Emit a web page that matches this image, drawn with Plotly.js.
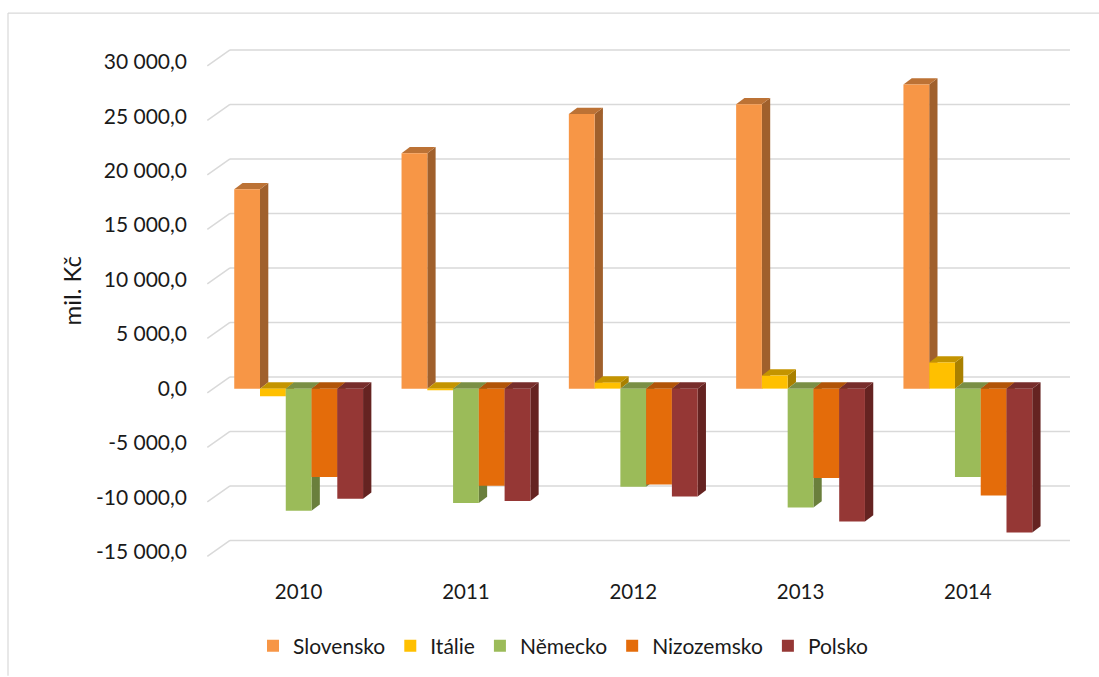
<!DOCTYPE html>
<html>
<head>
<meta charset="utf-8">
<script src="https://cdn.plot.ly/plotly-3.0.1.min.js"></script>
<style>
  html, body { margin: 0; padding: 0; background: #ffffff; }
  #chart { width: 1099px; height: 677px; }
</style>
</head>
<body>
<div id="chart"></div>
<script>
// ---- data ----
const years = ['2010', '2011', '2012', '2013', '2014'];
const seriesNames = ['Slovensko', 'Itálie', 'Německo', 'Nizozemsko', 'Polsko'];
const slovensko  = [18300, 21600, 25200, 26100, 27900];
const italie     = [-700, -150, 550, 1200, 2400];
const nemecko    = [-11200, -10500, -9000, -10900, -8100];
const nizozemsko = [-8100, -8900, -8800, -8200, -9800];
const polsko     = [-10100, -10300, -9900, -12200, -13200];
const tickVals   = [-15000, -10000, -5000, 0, 5000, 10000, 15000, 20000, 25000, 30000];
const tickLabels = ['-15 000,0', '-10 000,0', '-5 000,0', '0,0', '5 000,0', '10 000,0', '15 000,0', '20 000,0', '25 000,0', '30 000,0'];
const yTitle = 'mil. Kč';

// ---- styles ----
const frontColors = ['#F79646', '#FFC000', '#9BBB59', '#E46C0A', '#953735'];
const sideColors  = ['#A0602C', '#A98000', '#6A7F3C', '#A04B08', '#652321'];
const topColors   = ['#BC7235', '#C49400', '#7A8F45', '#B15408', '#772D2B'];
const seriesValues = [slovensko, italie, nemecko, nizozemsko, polsko];

// ---- geometry ----
const W = 1099, H = 677;
const mL = 205, mR = 25, mT = 40, mB = 112;
const plotW = W - mL - mR, plotH = H - mT - mB;
const xRange = [-0.5598, 4.6345];
const yRange = [-16090, 31987];
const ux = (xRange[1] - xRange[0]) / plotW;   // x units per px
const uy = (yRange[1] - yRange[0]) / plotH;   // y units per px
const pxToX = px => xRange[0] + (px - mL) * ux;
const bargap = 0.23;
const nS = seriesNames.length;
const bw = (1 - bargap) / nS;
const depthDx = 8.3 * ux, depthDy = 6.3 * uy;

const gridColor = '#D9D9D9';
const shapes = [];
// gridlines drawn as back wall + side wall
tickVals.forEach(v => {
  const yBack = v + 11.7 * uy;
  const yFront = v - 4.3 * uy;
  shapes.push({type: 'line', xref: 'x', yref: 'y', layer: 'below',
    x0: pxToX(230), x1: pxToX(1070), y0: yBack, y1: yBack,
    line: {color: gridColor, width: 1.5}});
  shapes.push({type: 'line', xref: 'x', yref: 'y', layer: 'below',
    x0: pxToX(207.3), x1: pxToX(230), y0: yFront, y1: yBack,
    line: {color: gridColor, width: 1.5}});
});
// depth faces of bars
seriesValues.forEach((vals, k) => {
  vals.forEach((v, i) => {
    const xl = i - (1 - bargap) / 2 + k * bw;
    const xr = xl + bw;
    const top = Math.max(v, 0), bot = Math.min(v, 0);
    shapes.push({type: 'path', xref: 'x', yref: 'y', layer: 'below',
      path: `M${xr},${bot} L${xr + depthDx},${bot + depthDy} L${xr + depthDx},${top + depthDy} L${xr},${top} Z`,
      fillcolor: sideColors[k], line: {width: 0}});
    shapes.push({type: 'path', xref: 'x', yref: 'y', layer: 'below',
      path: `M${xl},${top} L${xl + depthDx},${top + depthDy} L${xr + depthDx},${top + depthDy} L${xr},${top} Z`,
      fillcolor: topColors[k], line: {width: 0}});
  });
});
// chart border (top & left)
const paperX = px => (px - mL) / plotW;
const paperY = py => (H - mB - py) / plotH;
shapes.push({type: 'line', xref: 'paper', yref: 'paper', x0: paperX(8), x1: paperX(1099), y0: paperY(13), y1: paperY(13), line: {color: '#D9D9D9', width: 1.2}});
shapes.push({type: 'line', xref: 'paper', yref: 'paper', x0: paperX(8), x1: paperX(8), y0: paperY(13), y1: paperY(677), line: {color: '#D9D9D9', width: 1.2}});

const xIdx = years.map((_, i) => i);
const traces = seriesValues.map((vals, k) => ({
  type: 'bar',
  name: seriesNames[k],
  x: xIdx,
  y: vals,
  marker: {color: frontColors[k], line: {width: 0}},
  hoverinfo: 'skip'
}));

const font = 'Lato, "Open Sans", sans-serif';
const layout = {
  width: W, height: H,
  margin: {l: mL, r: mR, t: mT, b: mB},
  paper_bgcolor: '#ffffff', plot_bgcolor: 'rgba(0,0,0,0)',
  barmode: 'group', bargap: bargap, bargroupgap: 0,
  showlegend: true,
  xaxis: {
    range: xRange, tickvals: xIdx, ticktext: years,
    showgrid: false, zeroline: false, showline: false, ticks: '',
    tickfont: {family: font, size: 20.5, color: '#1a1a1a'},
    ticklabelstandoff: 13, fixedrange: true
  },
  yaxis: {
    range: yRange, tickvals: tickVals, ticktext: tickLabels,
    showgrid: false, zeroline: false, showline: false, ticks: '',
    tickfont: {family: font, size: 21, color: '#1a1a1a'},
    ticklabelstandoff: 17, fixedrange: true
  },
  legend: {
    orientation: 'h', x: paperX(563), xanchor: 'center',
    y: paperY(646), yanchor: 'middle',
    font: {family: font, size: 21, color: '#1a1a1a'},
    traceorder: 'normal', itemwidth: 30
  },
  annotations: [{
    text: yTitle, xref: 'paper', yref: 'paper',
    x: paperX(72), y: paperY(292), xanchor: 'center', yanchor: 'middle',
    textangle: -90, showarrow: false,
    font: {family: font, size: 24, color: '#1a1a1a'}
  }],
  shapes: shapes
};

Plotly.newPlot('chart', traces, layout, {displayModeBar: false, staticPlot: true});
</script>
</body>
</html>
